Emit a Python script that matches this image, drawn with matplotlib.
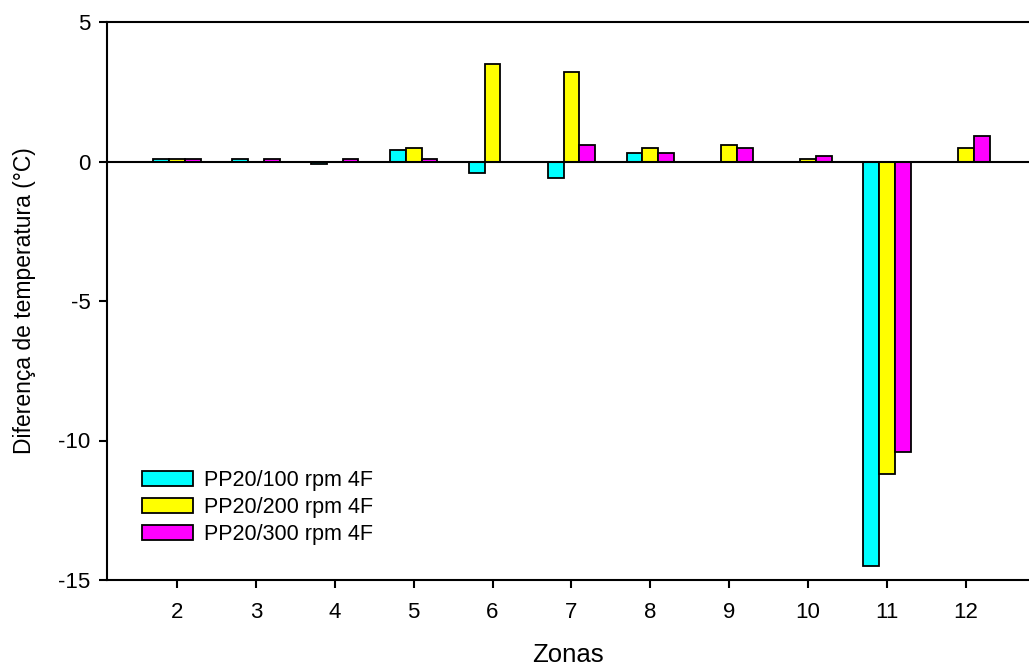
import matplotlib.pyplot as plt
import numpy as np

plt.rcParams.update({
	"font.family":["Liberation Sans","DejaVu Sans"],
	"font.size":15,
})

zonas=[2,3,4,5,6,7,8,9,10,11,12]
pp100=[0.1,0.1,-0.1,0.4,-0.4,-0.6,0.3,0.0,0.0,-14.5,0.0]
pp200=[0.1,0.0,0.0,0.5,3.5,3.2,0.5,0.6,0.1,-11.2,0.5]
pp300=[0.1,0.1,0.1,0.1,0.0,0.6,0.3,0.5,0.2,-10.4,0.9]
labels=["PP20/100 rpm 4F","PP20/200 rpm 4F","PP20/300 rpm 4F"]
colors=["#00FFFF","#FFFF00","#FF00FF"]

W,H=1029,668
fig=plt.figure(figsize=(W/100,H/100),dpi=100)
ax=fig.add_axes([107/W,(H-580)/H,(W-107)/W,(580-22)/H])

x=np.array(zonas,dtype=float)
bw=0.2
for k,(vals,lab,c) in enumerate(zip([pp100,pp200,pp300],labels,colors)):
	v=np.array(vals)
	m=v!=0
	ax.bar(x[m]+(k-1)*bw,v[m],bw,color=c,edgecolor='k',lw=1.3,label=lab,zorder=3)

ax.axhline(0.,c='k',lw=1.5,zorder=4)
ax.set_xlim(1.113,12.8)
ax.set_ylim(-15,5)
ax.set_xticks(zonas)
ax.set_yticks([5,0,-5,-10,-15])
ax.set_yticklabels(['5','0','-5','-10','-15'])
ax.spines['right'].set_visible(False)
for s in ['left','top','bottom']:
	ax.spines[s].set_linewidth(1.5)
ax.tick_params(direction='out',length=6,width=1.5,labelsize=16)
ax.tick_params(axis='x',pad=10)
ax.tick_params(axis='y',pad=6)
ax.set_xlabel("Zonas",fontsize=18.5,labelpad=14)
ax.set_ylabel("Diferença de temperatura (°C)",fontsize=16.5,labelpad=16)

h,l=ax.get_legend_handles_labels()
leg=ax.legend(h,l,loc='upper left',bbox_to_anchor=(142/W,(H-470)/H),bbox_transform=fig.transFigure,
	frameon=False,borderpad=0,borderaxespad=0,handlelength=2.35,handleheight=0.74,
	labelspacing=0.28,handletextpad=0.55,fontsize=15.5)

plt.savefig('out.png',dpi=100)
